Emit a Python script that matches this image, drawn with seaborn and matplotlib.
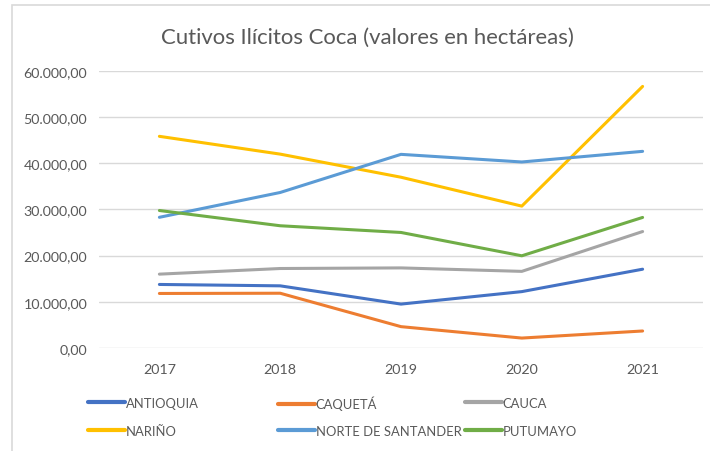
import matplotlib
matplotlib.use("Agg")
import matplotlib.pyplot as plt
from matplotlib.patches import Rectangle
from matplotlib.ticker import FuncFormatter
import seaborn as sns
import pandas as pd

# Coca cultivation by department (hectares)
years = [2017, 2018, 2019, 2020, 2021]
departments = ["ANTIOQUIA", "CAQUETÁ", "CAUCA", "NARIÑO", "NORTE DE SANTANDER", "PUTUMAYO"]
antioquia = [13750, 13450, 9500, 12200, 17050]
caqueta = [11800, 11850, 4620, 2150, 3680]
cauca = [15980, 17200, 17330, 16580, 25200]
narino = [45800, 41950, 36950, 30700, 56600]
norte_santander = [28280, 33650, 41900, 40250, 42550]
putumayo = [29750, 26450, 25000, 19950, 28250]
colors = ["#4472C4", "#ED7D31", "#A5A5A5", "#FFC000", "#5B9BD5", "#70AD47"]

series = [antioquia, caqueta, cauca, narino, norte_santander, putumayo]
df = pd.DataFrame(
    [(y, d, v) for d, vals in zip(departments, series) for y, v in zip(years, vals)],
    columns=["Año", "Departamento", "Hectáreas"],
)

sns.set_theme(style="white")
plt.rcParams["font.family"] = ["Lato", "DejaVu Sans"]
text_color = "#595959"
grid_color = "#D9D9D9"

W, H = 710, 452
fig = plt.figure(figsize=(W / 100, H / 100), dpi=100)
ax = fig.add_axes([99 / W, 1 - 349 / H, (703 - 99) / W, (349 - 71.7) / H])

sns.lineplot(
    data=df, x="Año", y="Hectáreas", hue="Departamento",
    hue_order=departments, palette=colors, linewidth=2.2,
    sort=False, ax=ax,
)
for line in ax.get_lines():
    line.set_solid_capstyle("round")
    line.set_solid_joinstyle("round")

ax.set_xlim(2016.5, 2021.5)
ax.set_ylim(0, 60000)
ax.set_xticks(years)
ax.set_xticklabels([str(y) for y in years])
ax.set_yticks(range(0, 60001, 10000))


def es_format(v, _pos):
    s = f"{v:,.2f}"
    return s.replace(",", "X").replace(".", ",").replace("X", ".")


ax.yaxis.set_major_formatter(FuncFormatter(es_format))
ax.set_xlabel("")
ax.set_ylabel("")
ax.grid(axis="y", color=grid_color, linewidth=1.0)
ax.grid(axis="x", visible=False)
ax.set_axisbelow(True)
for sp in ax.spines.values():
    sp.set_visible(False)
ax.tick_params(axis="both", length=0, labelsize=10.3, labelcolor=text_color)
ax.tick_params(axis="y", pad=8.5)
ax.tick_params(axis="x", pad=10.5)

handles, labels = ax.get_legend_handles_labels()
ax.get_legend().remove()

# legend entries on a 3 x 2 grid
col_x = [88, 278, 465]
row_y = [404, 432]
for i, (h, lab) in enumerate(zip(handles, labels)):
    r, c = divmod(i, 3)
    leg = fig.legend(
        [h], [lab], loc="center left",
        bbox_to_anchor=(col_x[c] / W, 1 - row_y[r] / H),
        frameon=False, fontsize=9.4, handlelength=2.8, handletextpad=0.1,
        borderpad=0, borderaxespad=0,
    )
    for t in leg.get_texts():
        t.set_color(text_color)
    for lh in leg.get_lines():
        lh.set_linewidth(3.0)

fig.text(367 / W, 1 - 38 / H, "Cutivos Ilícitos Coca (valores en hectáreas)",
         ha="center", va="center", fontsize=15.9, color=text_color)

# chart area border
fig.add_artist(Rectangle((12 / W, -0.1), 1.2, 1 - 6 / H + 0.1,
                         transform=fig.transFigure, fill=False,
                         edgecolor=grid_color, linewidth=1.2))

fig.savefig("out.png", dpi=100)
